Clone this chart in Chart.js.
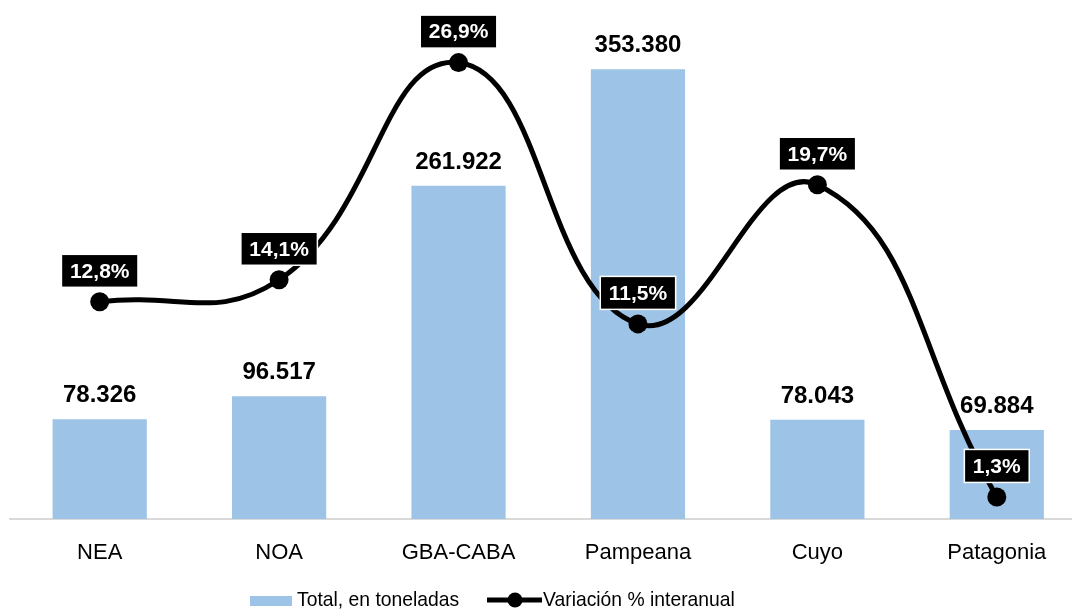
<!DOCTYPE html>
<html>
<head>
<meta charset="utf-8">
<script src="https://cdn.jsdelivr.net/npm/chart.js@4.4.1/dist/chart.umd.min.js"></script>
<style>
  html, body { margin: 0; padding: 0; background: #ffffff; overflow: hidden; }
  #wrap { position: relative; width: 1096px; height: 614px; }
</style>
</head>
<body>
<div id="wrap"><canvas id="myChart"></canvas></div>
<script>
// datos
const regiones = ['NEA', 'NOA', 'GBA-CABA', 'Pampeana', 'Cuyo', 'Patagonia'];
const toneladas = [78326, 96517, 261922, 353380, 78043, 69884];
const variacion = [12.8, 14.1, 26.9, 11.5, 19.7, 1.3];
const leyenda = ['Total, en toneladas', 'Variación % interanual'];

const FONT = '"Liberation Sans", Arial, sans-serif';
const AZUL = '#9dc3e6';

function fmtMiles(v) {
  return String(v).replace(/\B(?=(\d{3})+(?!\d))/g, '.');
}
function fmtPct(v) {
  return v.toFixed(1).replace('.', ',') + '%';
}

// etiquetas de datos (no hay plugin datalabels)
const etiquetas = {
  id: 'etiquetas',
  afterDatasetsDraw(chart) {
    const ctx = chart.ctx;
    ctx.save();
    // valores de barras
    const mb = chart.getDatasetMeta(0);
    ctx.font = 'bold 24px ' + FONT;
    ctx.fillStyle = '#000';
    ctx.textAlign = 'center';
    ctx.textBaseline = 'alphabetic';
    mb.data.forEach((bar, i) => {
      ctx.fillText(fmtMiles(toneladas[i]), bar.x, bar.y - 17);
    });
    // porcentajes en cajas negras
    const ml = chart.getDatasetMeta(1);
    ctx.font = 'bold 21px ' + FONT;
    ctx.textBaseline = 'middle';
    ml.data.forEach((pt, i) => {
      const txt = fmtPct(variacion[i]);
      const w = ctx.measureText(txt).width + 17;
      const h = 33;
      const cx = pt.x, cy = pt.y - 31;
      ctx.fillStyle = '#000';
      ctx.fillRect(cx - w / 2, cy - h / 2, w, h);
      ctx.strokeStyle = '#fff';
      ctx.lineWidth = 1.5;
      ctx.strokeRect(cx - w / 2, cy - h / 2, w, h);
      ctx.fillStyle = '#fff';
      ctx.fillText(txt, cx, cy + 1);
    });
    ctx.restore();
  }
};

// leyenda dibujada a mano para ubicarla como en el original
const leyendaAbajo = {
  id: 'leyendaAbajo',
  afterDraw(chart) {
    const ctx = chart.ctx;
    ctx.save();
    ctx.textBaseline = 'middle';
    ctx.textAlign = 'left';
    const y = 600;
    ctx.fillStyle = AZUL;
    ctx.fillRect(250, 596, 42, 10);
    ctx.strokeStyle = '#000';
    ctx.fillStyle = '#000';
    ctx.lineWidth = 5;
    ctx.beginPath();
    ctx.moveTo(487, y);
    ctx.lineTo(542, y);
    ctx.stroke();
    ctx.beginPath();
    ctx.arc(515, y, 7.5, 0, Math.PI * 2);
    ctx.fill();
    // texto algo comprimido, como en la imagen original
    ctx.font = '21px ' + FONT;
    ctx.save();
    ctx.translate(297, y);
    ctx.scale(0.92, 1);
    ctx.fillText(leyenda[0], 0, 0);
    ctx.restore();
    ctx.save();
    ctx.translate(543, y);
    ctx.scale(0.92, 1);
    ctx.fillText(leyenda[1], 0, 0);
    ctx.restore();
    ctx.restore();
  }
};

new Chart(document.getElementById('myChart'), {
  type: 'bar',
  data: {
    labels: regiones,
    datasets: [
      {
        label: leyenda[0],
        data: toneladas,
        backgroundColor: AZUL,
        barPercentage: 0.525,
        categoryPercentage: 1,
        yAxisID: 'y',
        order: 1
      },
      {
        type: 'line',
        label: leyenda[1],
        data: variacion,
        borderColor: '#000',
        borderWidth: 5,
        pointRadius: 9.5,
        pointBackgroundColor: '#000',
        pointBorderColor: '#000',
        pointBorderWidth: 0,
        tension: 0.45,
        clip: false,
        yAxisID: 'y1',
        order: 0
      }
    ]
  },
  options: {
    responsive: true,
    maintainAspectRatio: false,
    animation: false,
    layout: { padding: { left: 10, right: 6, top: 10, bottom: 0 } },
    plugins: {
      legend: { display: false },
      tooltip: { enabled: false }
    },
    scales: {
      x: {
        grid: { display: false, drawTicks: false },
        border: { display: true, color: '#d9d9d9', width: 2 },
        ticks: { color: '#000', font: { family: FONT, size: 22 }, padding: 21 },
        afterFit(scale) { scale.height = 95; }
      },
      y: { display: false, min: 0, max: 400000 },
      y1: { display: false, position: 'right', min: 0, max: 30 }
    }
  },
  plugins: [etiquetas, leyendaAbajo]
});
</script>
</body>
</html>
